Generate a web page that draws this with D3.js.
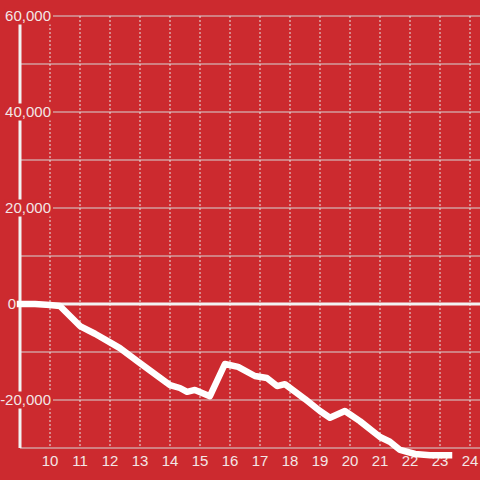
<!DOCTYPE html>
<html>
<head>
<meta charset="utf-8">
<script src="https://cdn.jsdelivr.net/npm/d3@7"></script>
<style>
html,body{margin:0;padding:0;background:#cc2a2f;}
svg{display:block;}
text{font-family:"Liberation Sans",Arial,sans-serif;}
</style>
</head>
<body>
<svg id="chart" width="480" height="480"></svg>
<script>
const hours = [9.0, 9.5, 10.0, 10.33, 11.0, 11.5, 12.0, 12.33, 13.0, 13.67, 14.0, 14.33, 14.57, 14.83, 15.33, 15.83, 16.27, 16.83, 17.23, 17.57, 17.83, 18.5, 19.0, 19.33, 19.83, 20.33, 21.0, 21.33, 21.67, 22.17, 22.67, 23.3];
const values = [0, 0, -200, -400, -4600, -6200, -8000, -9200, -12300, -15400, -16900, -17500, -18300, -17900, -19200, -12500, -13100, -15000, -15400, -17100, -16700, -19800, -22300, -23700, -22300, -24400, -27700, -28700, -30400, -31250, -31500, -31500];
const xTicks = [10, 11, 12, 13, 14, 15, 16, 17, 18, 19, 20, 21, 22, 23, 24];
const yLabelTicks = [60000, 40000, 20000, 0, -20000];
const yGridTicks = [60000, 50000, 40000, 30000, 20000, 10000, -10000, -20000, -30000];

const W = 480, H = 480;
const bg = "#cc2a2f";
const svg = d3.select("#chart");
svg.append("rect").attr("width", W).attr("height", H).attr("fill", bg);

const x = d3.scaleLinear().domain([9, 9 + 460 / 30]).range([20, 480]);
const y = d3.scaleLinear().domain([-30000, 60000]).range([448, 16]);

// horizontal grid
svg.append("g").selectAll("line").data(yGridTicks).join("line")
  .attr("x1", 20).attr("x2", 480)
  .attr("y1", d => y(d)).attr("y2", d => y(d))
  .attr("stroke", "#d6d6d6").attr("stroke-width", 1);

// vertical dashed grid
svg.append("g").selectAll("line").data(xTicks).join("line")
  .attr("x1", d => x(d)).attr("x2", d => x(d))
  .attr("y1", y(60000)).attr("y2", y(-30000))
  .attr("stroke", "#e6e6e6").attr("stroke-width", 1)
  .attr("stroke-dasharray", "2,2");

// y axis line
svg.append("line").attr("x1", 20).attr("x2", 20)
  .attr("y1", y(60000)).attr("y2", y(-30000))
  .attr("stroke", "#f2f2f2").attr("stroke-width", 3);

// zero line
svg.append("line").attr("x1", 20).attr("x2", 480)
  .attr("y1", y(0)).attr("y2", y(0))
  .attr("stroke", "#f2f2f2").attr("stroke-width", 3);

// y labels with background
const fmt = d3.format(",");
const yl = svg.append("g").selectAll("g").data(yLabelTicks).join("g")
  .attr("transform", d => `translate(${d === 0 ? 16 : 51},${y(d)})`);
yl.append("text")
  .attr("text-anchor", "end").attr("dy", "0.35em")
  .attr("font-size", 15).attr("fill", "#f3e6e6")
  .text(d => fmt(d).replace("−", "-"));
yl.each(function(d) {
  if (d === 0) return;
  const g = d3.select(this);
  const bb = g.select("text").node().getBBox();
  g.insert("rect", "text")
    .attr("x", bb.x - 1).attr("y", -8.5)
    .attr("width", bb.width + 3).attr("height", 17)
    .attr("fill", bg);
});

// x labels
svg.append("g").selectAll("text").data(xTicks).join("text")
  .attr("x", d => x(d)).attr("y", 461).attr("dy", "0.35em")
  .attr("text-anchor", "middle")
  .attr("font-size", 15).attr("fill", "#f3e6e6")
  .text(d => d);

// data line
const line = d3.line().x((d, i) => x(hours[i])).y(d => y(d));
svg.append("path").datum(values)
  .attr("d", line)
  .attr("fill", "none").attr("stroke", "#ffffff")
  .attr("stroke-width", 6.5)
  .attr("stroke-linecap", "square").attr("stroke-linejoin", "round");
</script>
</body>
</html>
